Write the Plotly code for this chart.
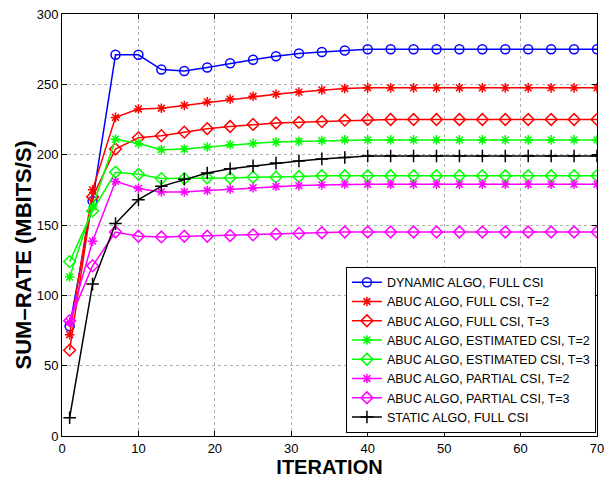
import plotly.graph_objects as go

iterations = list(range(1, 71, 3))

dynamic_full = [78, 167, 271, 271, 260.5, 259.5, 262, 265, 267.5, 270, 272, 273, 274] + [275] * 11
abuc_full_t2 = [72, 175, 226.5, 232.5, 233, 235, 237.5, 239.5, 241.5, 243, 244.5, 246, 247] + [247.5] * 11
abuc_full_t3 = [61, 170, 204, 212, 213.5, 216, 218.5, 220, 221.5, 222.5, 223, 223.5, 224.5] + [225] * 11
abuc_est_t2 = [113, 163, 211, 208, 203.5, 204, 205.5, 207, 208, 209, 209.5, 210, 210.5] + [210.5] * 11
abuc_est_t3 = [124, 160, 187.5, 186, 183, 183, 183.5, 183.5, 184, 184, 184.5, 185, 185] + [185] * 11
abuc_part_t2 = [81, 138.5, 181, 176, 173.5, 173.5, 174.5, 175.5, 176.5, 177.5, 178, 178.5, 179] + [179] * 11
abuc_part_t3 = [82, 121, 145, 142, 141.5, 142, 142, 142.5, 143, 143.5, 144, 144.5, 145] + [145] * 11
static_full = [13, 108, 151, 168, 177.5, 182.5, 187, 190, 192, 194, 195.5, 197, 198] + [199] * 11

series = [
    ("DYNAMIC ALGO, FULL CSI", dynamic_full, "#0000ff", "circle-open"),
    ("ABUC ALGO, FULL CSI, T=2", abuc_full_t2, "#ff0000", "asterisk-open"),
    ("ABUC ALGO, FULL CSI, T=3", abuc_full_t3, "#ff0000", "diamond-open"),
    ("ABUC ALGO, ESTIMATED CSI, T=2", abuc_est_t2, "#00ff00", "asterisk-open"),
    ("ABUC ALGO, ESTIMATED CSI, T=3", abuc_est_t3, "#00ff00", "diamond-open"),
    ("ABUC ALGO, PARTIAL CSI, T=2", abuc_part_t2, "#ff00ff", "asterisk-open"),
    ("ABUC ALGO, PARTIAL CSI, T=3", abuc_part_t3, "#ff00ff", "diamond-open"),
    ("STATIC ALGO, FULL CSI", static_full, "#000000", "cross-thin-open"),
]

fig = go.Figure()
for name, vals, color, sym in series:
    size = 9 if sym != "asterisk-open" else 8
    fig.add_trace(go.Scatter(
        x=iterations, y=vals, name=name, mode="lines+markers",
        line=dict(color=color, width=1.5),
        marker=dict(symbol=sym, size=size, color=color, line=dict(color=color, width=1.5)),
    ))

fig.update_layout(
    width=604, height=479,
    margin=dict(l=62, r=7, t=14, b=43),
    paper_bgcolor="white", plot_bgcolor="white",
    font=dict(family="Liberation Sans, Arial, sans-serif", size=13, color="#000"),
    showlegend=True,
    legend=dict(
        x=0.998, y=0.008, xanchor="right", yanchor="bottom",
        bgcolor="white", bordercolor="black", borderwidth=1,
        font=dict(size=12.5), tracegroupgap=0, itemwidth=30,
    ),
    xaxis=dict(
        range=[0, 70], tickvals=[0, 10, 20, 30, 40, 50, 60, 70],
        showline=True, linecolor="black", linewidth=1, mirror="ticks",
        ticks="inside", ticklen=5, tickcolor="black", ticklabeloverflow="allow",
        showgrid=True, gridcolor="#b0b0b0", griddash="dot", gridwidth=1,
        zeroline=False, automargin=False,
        title=dict(text="<b>ITERATION</b>", font=dict(size=20), standoff=0),
    ),
    yaxis=dict(
        range=[0, 300], tickvals=[0, 50, 100, 150, 200, 250, 300],
        showline=True, linecolor="black", linewidth=1, mirror="ticks",
        ticks="inside", ticklen=5, tickcolor="black", ticklabeloverflow="allow",
        showgrid=True, gridcolor="#b0b0b0", griddash="dot", gridwidth=1,
        zeroline=False, automargin=False,
    ),
    annotations=[dict(
        text="<b>SUM\u2013RATE (MBITS/S)</b>", textangle=-90,
        xref="paper", yref="paper", x=0, y=0.461, xanchor="center", yanchor="middle",
        xshift=-39, yshift=-14, showarrow=False, font=dict(size=22),
    )],
)

# Remove the browser's default 8px body margin so the figure fills the window exactly.
fig.write_html(
    "out.html",
    config={"displayModeBar": False},
    post_script="document.body.style.margin='0';",
)
